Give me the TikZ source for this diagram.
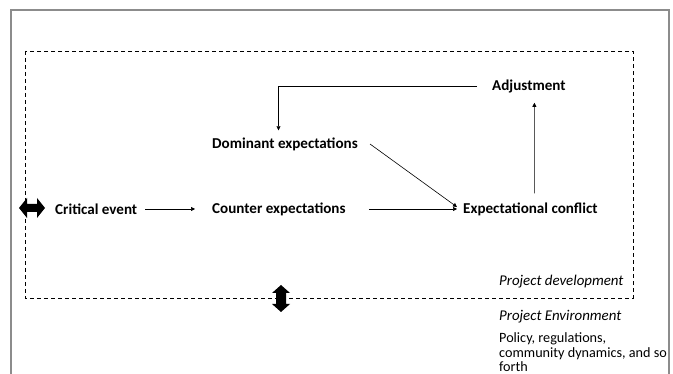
\documentclass[tikz,border=0pt]{standalone}
\usepackage{fontspec}
\setmainfont{Carlito}
\usetikzlibrary{arrows.meta}
\definecolor{framegray}{RGB}{140,140,140}
\begin{document}
\begin{tikzpicture}[x=1pt,y=-1pt,
  lbl/.style={font=\bfseries\fontsize{15.1}{18}\selectfont, inner sep=0pt, anchor=west},
  ilbl/.style={font=\itshape\fontsize{14.9}{18}\selectfont, inner sep=0pt, anchor=west},
  plbl/.style={font=\fontsize{14.2}{14.8}\selectfont, inner sep=0pt, anchor=base west, align=left},
  arr/.style={-{Triangle[length=4pt,width=4pt]}, line width=0.6pt},
  dbl/.style={fill=black, draw=none}]
\useasboundingbox (0,0) rectangle (673,374);
% outer frame
\draw[framegray, line width=1.5pt] (11,380) -- (11,10) -- (669,10) -- (669,380);
% dashed project development box
\draw[dashed, line width=0.8pt, dash pattern=on 4pt off 3pt] (25,51) rectangle (633,298);
% nodes
\node[lbl] (adj) at (492,86) {Adjustment};
\node[lbl] (dom) at (212,144) {Dominant expectations};
\node[lbl] (crit) at (55,209) {Critical event};
\node[lbl] (coun) at (212,209) {Counter expectations};
\node[lbl] (conf) at (463,209) {Expectational conflict};
\node[ilbl] (pdev) at (499,282) {Project development};
\node[ilbl] (penv) at (499,317) {Project Environment};
\node[plbl] (pol) at (499,372) {Policy, regulations,\\community dynamics, and so\\forth};
% connectors
\draw[arr] ([xshift=8pt]crit.east) -- ([xshift=-17pt]coun.west);
\draw[arr] ([xshift=23pt]coun.east) -- ([xshift=-6pt]conf.west);
\draw[arr] ([xshift=12pt]dom.east) -- ([xshift=-6pt,yshift=2pt]conf.west);
\draw[arr] ([xshift=4pt,yshift=9pt]conf.north) -- ([xshift=5.5pt,yshift=-10pt]adj.south);
\draw[arr] ([xshift=-15pt]adj.west) -| ([xshift=-6.5pt,yshift=7pt]dom.north);
% double arrows
\fill[dbl] (19,208) -- (27,198) -- (27,204) -- (37,204) -- (37,198) -- (45,208)
  -- (37,218) -- (37,212) -- (27,212) -- (27,218) -- cycle;
\fill[dbl] (281,285) -- (290,293) -- (286,293) -- (286,304) -- (290,304) -- (281,312)
  -- (272,304) -- (276,304) -- (276,293) -- (272,293) -- cycle;
\end{tikzpicture}
\end{document}
